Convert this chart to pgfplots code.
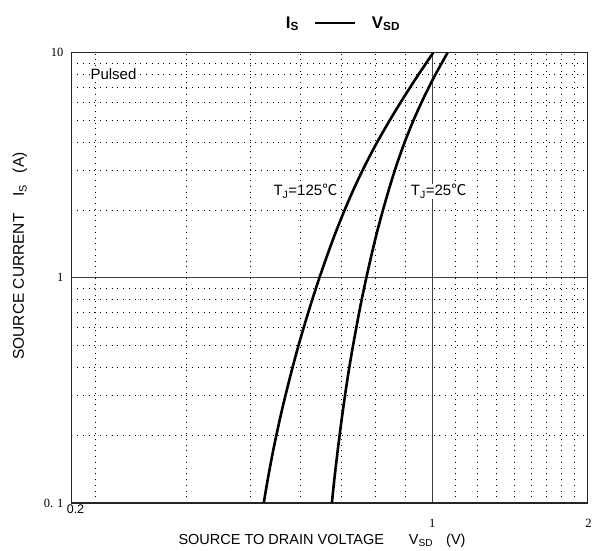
\documentclass[border=0pt]{standalone}
\usepackage{pgfplots}
\pgfplotsset{compat=1.18}
\usepackage{fontspec}
\setmainfont{Liberation Sans}
\newfontfamily\tnr{Liberation Serif}
\newfontfamily\cjk{Noto Sans CJK SC}
\newcommand{\degC}{{\cjk ℃}}
\begin{document}
\begin{tikzpicture}
\begin{axis}[
  scale only axis, width=516bp, height=450.3bp,
  xmode=log, ymode=log,
  xmin=0.2, xmax=2, ymin=0.1, ymax=10,
  xtick={0.2,1,2},
  xticklabels={{\rmfamily\raisebox{13.7bp}{\hspace{8bp}0.2}},1,\hspace{2bp}2},
  ytick={0.1,1,10},
  yticklabels={0.\hspace{0.3em}1,1,10},
  minor xtick={0.22222,0.33333,0.44444,0.55556,0.66667,0.77778,0.88889,1.11111,1.22222,1.33333,1.44444,1.55556,1.66667,1.77778,1.88889},
  minor ytick={0.2,0.3,0.4,0.5,0.6,0.7,0.8,0.9,2,3,4,5,6,7,8,9},
  grid=both,
  major grid style={solid, line width=1.1bp, black!75},
  minor grid style={line width=0.9bp, black, dash pattern=on 0.9bp off 4.85bp},
  major tick length=0pt, minor tick length=0pt,
  axis line style={line width=1.3bp, black!85},
  ticklabel style={font=\tnr\fontsize{12.5bp}{14bp}\selectfont},
  xticklabel style={anchor=base, yshift=-24bp, inner sep=0pt},
  yticklabel style={anchor=east, xshift=-8bp, inner sep=0pt},
]
% T_J = 125 C
\addplot[black, line width=2.6bp, smooth] coordinates {
  (0.4716,0.1) (0.4797,0.1259) (0.4887,0.1585) (0.4988,0.1995) (0.5100,0.2512)
  (0.5224,0.3162) (0.5360,0.3981) (0.5508,0.5012) (0.5672,0.6310) (0.5850,0.7943)
  (0.6046,1) (0.6260,1.259) (0.6496,1.585) (0.6763,1.995) (0.7065,2.512)
  (0.7412,3.162) (0.7813,3.981) (0.8276,5.012) (0.8800,6.310) (0.9388,7.943) (1.0046,10)};
% T_J = 25 C
\addplot[black, line width=2.6bp, smooth] coordinates {
  (0.6392,0.1) (0.6459,0.1259) (0.6534,0.1585) (0.6615,0.1995) (0.6704,0.2512)
  (0.6800,0.3162) (0.6907,0.3981) (0.7026,0.5012) (0.7156,0.6310) (0.7297,0.7943)
  (0.7454,1) (0.7626,1.259) (0.7814,1.585) (0.8026,1.995) (0.8262,2.512)
  (0.8528,3.162) (0.8836,3.981) (0.9200,5.012) (0.9630,6.310) (1.0128,7.943) (1.0712,10)};
\node[fill=white, inner sep=1bp, anchor=west, font=\fontsize{15bp}{18bp}\selectfont] at (axis cs:0.2166,8) {Pulsed};
\node[fill=white, inner sep=1bp, font=\fontsize{15bp}{18bp}\selectfont] at (axis cs:0.568,2.42) {T\textsubscript{J}=125\degC};
\node[fill=white, inner sep=1bp, font=\fontsize{15bp}{18bp}\selectfont] at (axis cs:1.029,2.42) {T\textsubscript{J}=25\degC};
\end{axis}
\node[anchor=base, font=\bfseries\fontsize{16.8bp}{19bp}\selectfont] at ([shift={(271.5bp,24.4bp)}]current axis.north west)
  {I\textsubscript{S}\hspace{16bp}\rule[4.4bp]{40bp}{2.2bp}\hspace{17bp}V\textsubscript{SD}};
\node[anchor=base west, font=\fontsize{14.5bp}{17bp}\selectfont] at ([shift={(103.5bp,-41.3bp)}]current axis.south west)
  {SOURCE TO DRAIN VOLTAGE\hspace{25bp}V\textsubscript{SD}\hspace{13bp}(V)};
\node[rotate=90, anchor=base west, font=\fontsize{15.5bp}{18bp}\selectfont] at ([shift={(-47.5bp,139.7bp)}]current axis.south west)
  {SOURCE CURRENT\hspace{16.6bp}I\textsubscript{S}\hspace{11.6bp}(A)};
\path ([shift={(-71.5bp,-48bp)}]current axis.south west) rectangle ([shift={(5.5bp,52.7bp)}]current axis.north east);
\end{tikzpicture}
\end{document}
